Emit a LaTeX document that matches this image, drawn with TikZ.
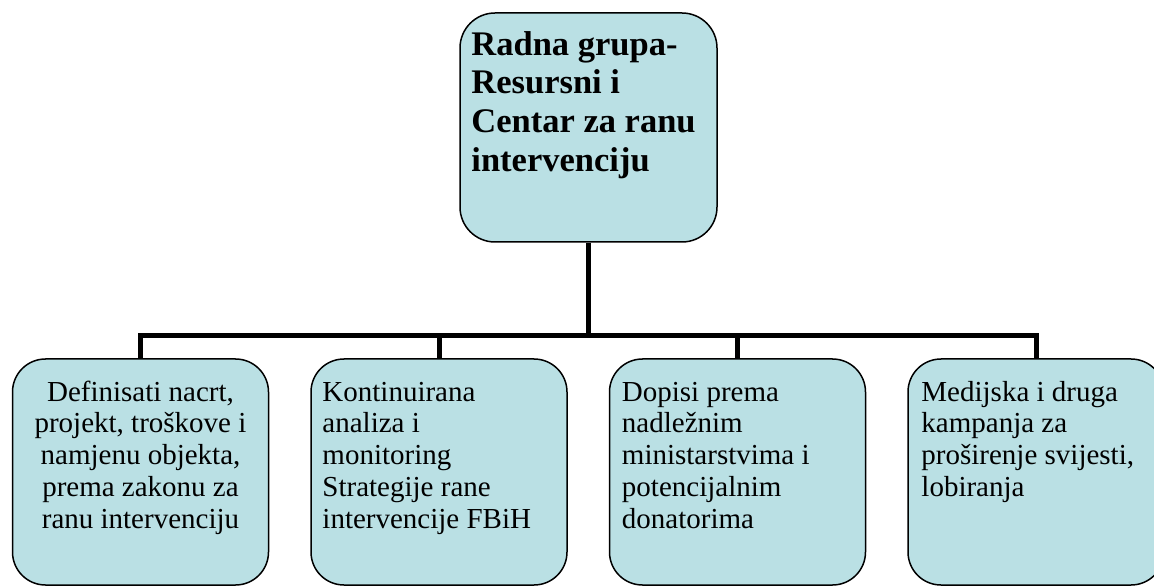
\documentclass[tikz,border=0pt]{standalone}
\usepackage{fontspec}
\setmainfont{Liberation Serif}
\definecolor{boxfill}{RGB}{186,224,228}
\begin{document}
\begin{tikzpicture}[x=1pt,y=1pt,
  topbox/.style={draw=black, line width=1.5pt, fill=boxfill, rounded corners=35pt,
    minimum width=257pt, minimum height=229pt, inner sep=0pt},
  subbox/.style={draw=black, line width=1.5pt, fill=boxfill, rounded corners=33pt,
    minimum width=256pt, minimum height=226pt, inner sep=0pt},
  txt/.style={inner sep=0pt, anchor=base west},
  ctxt/.style={inner sep=0pt, anchor=base},
  conn/.style={draw=black, line width=5pt, line join=miter}]
\clip (0,0) rectangle (1154,587);
\fill[white] (0,0) rectangle (1154,587);
% boxes
\node[topbox] (top) at (588.5,459.5) {};
\node[subbox] (b1) at (140.5,115) {};
\node[subbox] (b2) at (439,115) {};
\node[subbox] (b3) at (737.5,115) {};
\node[subbox] (b4) at (1036,115) {};
\coordinate (bus) at (589,251.5);
% connectors
\draw[conn] (b1.north) -- (b1.north |- bus) -- (b4.north |- bus) -- (b4.north);
\draw[conn] (top.south) -- (top.south |- bus);
\draw[conn] (b2.north |- bus) -- (b2.north);
\draw[conn] (b3.north |- bus) -- (b3.north);
% texts
\node[txt] (t0) at ([xshift=12pt,yshift=-43pt]top.north west)
  {\parbox[t]{240pt}{\raggedright\fontsize{34.5}{38.7}\selectfont\bfseries
   Radna grupa-\\Resursni i\\Centar za ranu\\intervenciju}};
\node[ctxt] (t1) at ([yshift=-43pt]b1.north)
  {\parbox[t]{240pt}{\centering\fontsize{29}{31.7}\selectfont
   Definisati nacrt,\\projekt, troškove i\\namjenu objekta,\\prema zakonu za\\ranu intervenciju}};
\node[txt] (t2) at ([xshift=12pt,yshift=-43pt]b2.north west)
  {\parbox[t]{240pt}{\raggedright\fontsize{29}{31.7}\selectfont
   Kontinuirana\\analiza i\\monitoring\\Strategije rane\\intervencije FBiH}};
\node[txt] (t3) at ([xshift=13pt,yshift=-43pt]b3.north west)
  {\parbox[t]{240pt}{\raggedright\fontsize{29}{31.7}\selectfont
   Dopisi prema\\nadležnim\\ministarstvima i\\potencijalnim\\donatorima}};
\node[txt] (t4) at ([xshift=14pt,yshift=-43pt]b4.north west)
  {\parbox[t]{240pt}{\raggedright\fontsize{29}{31.7}\selectfont
   Medijska i druga\\kampanja za\\proširenje svijesti,\\lobiranja}};
\end{tikzpicture}
\end{document}
